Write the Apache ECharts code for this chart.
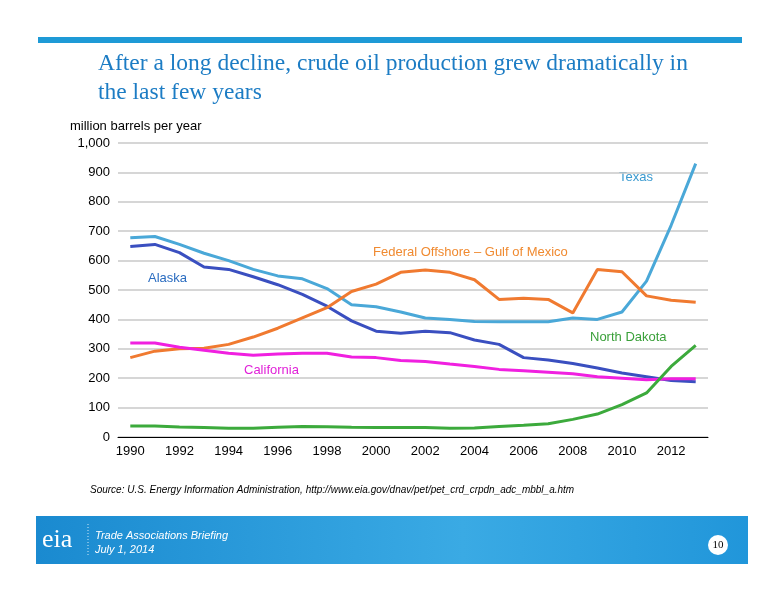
<!DOCTYPE html>
<html><head><meta charset="utf-8">
<script src="https://cdn.jsdelivr.net/npm/echarts@6/dist/echarts.min.js"></script>
<style>html,body{margin:0;padding:0;background:#fff}#c{width:776px;height:600px}</style>
</head><body><div id="c"></div>
<script>
const years = ['1990','1991','1992','1993','1994','1995','1996','1997','1998','1999','2000','2001','2002','2003','2004','2005','2006','2007','2008','2009','2010','2011','2012','2013'];
const texas = [678,682,655,625,600,570,548,538,505,450,443,425,405,400,393,392,392,392,405,400,425,530,720,930];
const alaska = [648,655,627,578,570,545,518,485,445,395,360,353,360,355,330,315,270,262,250,235,218,205,192,188];
const gulf = [270,292,300,302,315,340,370,405,440,495,520,560,568,560,535,468,472,468,422,570,562,480,465,458];
const california = [320,320,305,295,285,278,282,285,285,272,270,260,257,248,240,230,225,220,215,205,200,195,198,198];
const northDakota = [37,37,34,32,30,30,33,36,35,33,32,32,32,30,31,36,40,45,60,78,110,150,240,312];

const chart = echarts.init(document.getElementById('c'));
function s(name, data, color){return {name, type:'line', data, symbol:'none', lineStyle:{width:3,color}, itemStyle:{color}};}
const lab = (x,y,text,color)=>({type:'text',left:x,top:y,style:{text,fill:color,font:'13px "Liberation Sans", Arial'}});
chart.setOption({
  animation:false,
  grid:{left:118,right:68,top:143,bottom:163},
  xAxis:{type:'category',data:years,boundaryGap:true,
    axisLine:{lineStyle:{color:'#000'}},axisTick:{interval:1,lineStyle:{color:'#000'}},
    axisLabel:{interval:1,color:'#000',fontSize:13,fontFamily:'Liberation Sans'}},
  yAxis:{type:'value',min:0,max:1000,interval:100,
    name:'million barrels per year',nameLocation:'end',nameGap:10,
    nameTextStyle:{color:'#000',fontSize:13,align:'left',padding:[0,0,0,-48],fontFamily:'Liberation Sans'},
    axisLabel:{color:'#000',fontSize:13,fontFamily:'Liberation Sans',formatter:v=>v.toLocaleString('en-US')},
    splitLine:{lineStyle:{color:'#c8c8c8',width:1.5}}},
  series:[s('Texas',texas,'#4aa8d8'),s('Alaska',alaska,'#3a4fc0'),s('Federal Offshore – Gulf of Mexico',gulf,'#f07a30'),
          s('California',california,'#f020e0'),s('North Dakota',northDakota,'#3caa3c')],
  graphic:[
    {type:'rect',shape:{x:38,y:37,width:704,height:6},style:{fill:'#1e9ad6'}},
    {type:'text',left:98,top:49,style:{text:'After a long decline, crude oil production grew dramatically in\nthe last few years',fill:'#1c7cc4',font:'23.5px "Liberation Serif", "Times New Roman"',lineHeight:29}},
    lab(619,171,'Texas','#3a9ad0'),
    lab(148,272,'Alaska','#2a6cc0'),
    lab(373,246,'Federal Offshore – Gulf of Mexico','#f08a30'),
    lab(244,364,'California','#e020d8'),
    lab(590,331,'North Dakota','#3aa03a'),
    {type:'text',left:90,top:485,style:{text:'Source: U.S. Energy Information Administration, http://www.eia.gov/dnav/pet/pet_crd_crpdn_adc_mbbl_a.htm',fill:'#000',font:'italic 10px "Liberation Sans", Arial'}},
    {type:'rect',shape:{x:36,y:516,width:712,height:48},style:{fill:new echarts.graphic.LinearGradient(0,0,1,0,[{offset:0,color:'#1a8ad0'},{offset:0.6,color:'#3aaae4'},{offset:1,color:'#2196da'}])}},
    {type:'text',left:42,top:527,style:{text:'eia',fill:'#fff',font:'26px "Liberation Serif"'}},
    {type:'line',shape:{x1:88,y1:524,x2:88,y2:556},style:{stroke:'#cfe8f7',lineDash:[1,2]}},
    {type:'text',left:95,top:529,style:{text:'Trade Associations Briefing\nJuly 1, 2014',fill:'#fff',font:'italic 11px "Liberation Sans", Arial',lineHeight:14}},
    {type:'circle',shape:{cx:718,cy:545,r:10},style:{fill:'#fff'}},
    {type:'text',x:718,y:545,style:{text:'10',fill:'#000',font:'11px "Liberation Serif"',align:'center',verticalAlign:'middle'}}
  ]
});
</script></body></html>
